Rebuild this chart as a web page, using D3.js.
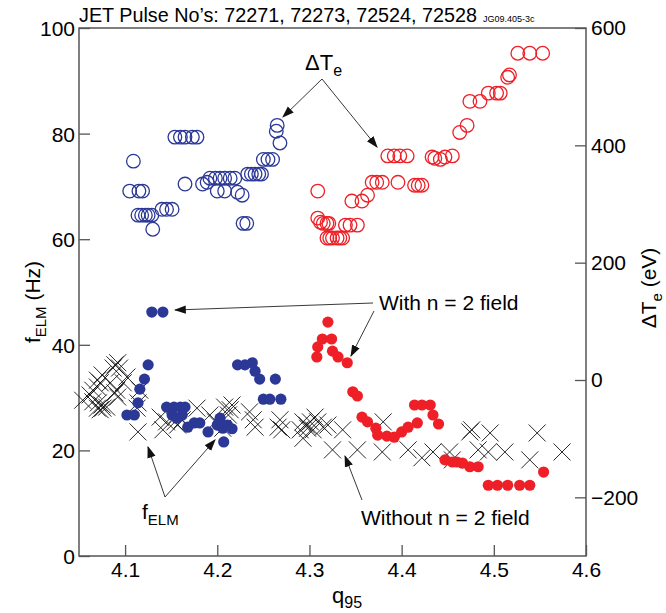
<!DOCTYPE html>
<html>
<head>
<meta charset="utf-8">
<script src="https://cdn.jsdelivr.net/npm/d3@7"></script>
<style>
  body { margin: 0; background: #fff; }
  text { font-family: "Liberation Sans", Arial, sans-serif; }
</style>
</head>
<body>
<div id="canvas"></div>
<script>
// ΔTe, pulse set 1 (blue open circles) : [q95, ΔTe eV]
const dteBlue = [
  [4.109, 373], [4.105, 322], [4.115, 322], [4.119, 322],
  [4.114, 281], [4.118, 281], [4.122, 281], [4.125, 281], [4.129, 281],
  [4.130, 257], [4.140, 291], [4.145, 291], [4.151, 291],
  [4.154, 414], [4.160, 414], [4.165, 414], [4.173, 414], [4.178, 414],
  [4.165, 334], [4.184, 334], [4.189, 337],
  [4.192, 344], [4.198, 344], [4.203, 344], [4.208, 344], [4.214, 344], [4.219, 344],
  [4.200, 322], [4.208, 322], [4.222, 320], [4.227, 315],
  [4.228, 267], [4.232, 267],
  [4.233, 351], [4.237, 351], [4.241, 351], [4.245, 351], [4.248, 351],
  [4.250, 376], [4.255, 376], [4.260, 376],
  [4.265, 434], [4.264, 424], [4.268, 404]
];

// ΔTe, pulse set 2 (red open circles)
const dteRed = [
  [4.309, 322], [4.309, 276], [4.312, 269], [4.315, 267], [4.319, 267], [4.321, 267],
  [4.319, 242], [4.322, 242], [4.325, 242], [4.330, 242], [4.333, 242], [4.336, 242],
  [4.339, 264], [4.344, 264], [4.352, 264],
  [4.346, 305], [4.357, 305], [4.363, 315],
  [4.368, 337], [4.373, 337], [4.379, 337], [4.396, 337],
  [4.414, 332], [4.418, 332], [4.422, 332],
  [4.385, 382], [4.392, 382], [4.398, 382], [4.406, 382],
  [4.433, 380], [4.436, 378], [4.442, 376], [4.447, 380], [4.455, 382],
  [4.463, 422], [4.471, 434],
  [4.474, 475], [4.485, 475],
  [4.494, 489], [4.503, 489], [4.507, 489],
  [4.515, 516], [4.517, 520],
  [4.526, 557], [4.539, 557], [4.553, 557]
];

// fELM with n = 2 field, pulse set 1 (blue dots) : [q95, Hz]
const felmBlue = [
  [4.129, 46.2], [4.141, 46.2],
  [4.125, 36.2], [4.121, 33.5], [4.116, 31.6], [4.114, 29.0], [4.102, 26.7], [4.110, 26.7],
  [4.145, 28.2], [4.153, 28.2], [4.160, 28.2], [4.165, 28.2],
  [4.151, 26.7], [4.156, 26.1], [4.162, 26.7],
  [4.168, 24.4], [4.175, 25.2], [4.181, 25.2], [4.190, 23.5],
  [4.200, 24.8], [4.203, 26.1], [4.206, 24.2], [4.211, 24.8], [4.216, 24.1], [4.207, 21.6],
  [4.222, 36.2], [4.230, 36.2], [4.238, 36.6], [4.241, 35.0], [4.246, 33.5],
  [4.263, 33.5], [4.250, 29.7], [4.257, 29.7], [4.269, 29.7]
];

// fELM with n = 2 field, pulse set 2 (red dots)
const felmRed = [
  [4.320, 44.3], [4.314, 41.1], [4.324, 41.1], [4.309, 39.6], [4.308, 37.7],
  [4.325, 38.8], [4.331, 37.7], [4.341, 36.6],
  [4.347, 31.1], [4.352, 30.3], [4.357, 26.3], [4.363, 25.4],
  [4.372, 24.2], [4.374, 22.9], [4.384, 22.7], [4.392, 22.5], [4.400, 23.5], [4.407, 24.4], [4.417, 25.2],
  [4.414, 28.6], [4.422, 28.6], [4.431, 28.6], [4.434, 26.7], [4.440, 25.0],
  [4.447, 18.2], [4.455, 17.8], [4.460, 17.8], [4.466, 17.6], [4.474, 16.9], [4.483, 16.9],
  [4.494, 13.4], [4.504, 13.4], [4.515, 13.4], [4.528, 13.4], [4.539, 13.4],
  [4.554, 15.9]
];

// fELM without n = 2 field (crosses)
const felmNoField = [
  [4.054, 29.5], [4.062, 30.5], [4.065, 31.4], [4.070, 32.0], [4.065, 29.2], [4.071, 29.0],
  [4.075, 28.6], [4.073, 27.7], [4.076, 28.0], [4.080, 28.2], [4.070, 28.0],
  [4.070, 33.3], [4.075, 34.3], [4.073, 32.8],
  [4.089, 36.2], [4.092, 36.6], [4.094, 35.6], [4.087, 35.6],
  [4.091, 31.4], [4.092, 30.1], [4.098, 32.8], [4.102, 33.9], [4.084, 32.8], [4.089, 30.9],
  [4.113, 28.0], [4.114, 29.0], [4.116, 31.4], [4.114, 23.5],
  [4.138, 26.3], [4.141, 23.9], [4.145, 25.4],
  [4.156, 26.7], [4.162, 25.8], [4.154, 25.4], [4.157, 24.8],
  [4.178, 28.0], [4.192, 26.7], [4.198, 25.4], [4.206, 24.2],
  [4.208, 28.2], [4.214, 27.7], [4.212, 26.7], [4.216, 28.6],
  [4.235, 27.3], [4.239, 25.8], [4.241, 24.4],
  [4.268, 25.8], [4.266, 24.4], [4.270, 23.9],
  [4.290, 23.9], [4.293, 25.4], [4.297, 24.8], [4.301, 25.4], [4.306, 26.3], [4.309, 25.4],
  [4.315, 24.4], [4.320, 24.8], [4.293, 22.3], [4.298, 24.2], [4.304, 23.9],
  [4.336, 23.9], [4.325, 20.1], [4.352, 20.1],
  [4.380, 25.4], [4.379, 19.7], [4.407, 20.1], [4.422, 18.6], [4.434, 19.7],
  [4.452, 19.7], [4.455, 18.2],
  [4.474, 23.5], [4.476, 23.9], [4.496, 23.3],
  [4.483, 20.1], [4.494, 19.7], [4.512, 19.7],
  [4.547, 23.3], [4.539, 18.2], [4.574, 19.7]
];

const xTicks = [4.1, 4.2, 4.3, 4.4, 4.5, 4.6];
const yLeftTicks = [0, 20, 40, 60, 80, 100];
const yRightTicks = [-200, 0, 200, 400, 600];

const width = 666, height = 613;
const plot = { left: 79, right: 586, top: 28, bottom: 556 };

const blue = "#2b3896";
const red = "#ee1f26";
const axisColor = "#555";

const x = d3.scaleLinear().domain([4.05, 4.6]).range([plot.left, plot.right]);
const yL = d3.scaleLinear().domain([0, 100]).range([plot.bottom, plot.top]);
const yR = d3.scaleLinear().domain([-300, 600]).range([plot.bottom, plot.top]);

const svg = d3.select("#canvas").append("svg")
  .attr("width", width)
  .attr("height", height);

// arrow head
svg.append("defs").append("marker")
  .attr("id", "arrow")
  .attr("viewBox", "0 0 10 10")
  .attr("refX", 9).attr("refY", 5)
  .attr("markerWidth", 12).attr("markerHeight", 12)
  .attr("markerUnits", "userSpaceOnUse")
  .attr("orient", "auto")
  .append("path")
  .attr("d", "M0,1.5 L10,5 L0,8.5 Z")
  .attr("fill", "#111");

// axes (ticks inward)
function styleAxis(g) {
  g.select(".domain").remove();
  g.selectAll(".tick line").attr("stroke", axisColor).attr("stroke-width", 1.3);
  g.selectAll(".tick text").attr("fill", "#000").style("font-size", "21px")
    .style("font-family", "'Liberation Sans', Arial, sans-serif");
}

svg.append("g")
  .attr("transform", `translate(0,${plot.bottom})`)
  .call(d3.axisBottom(x).tickValues(xTicks).tickFormat(d3.format(".1f"))
    .tickSizeInner(-11).tickSizeOuter(0).tickPadding(6))
  .call(styleAxis);

svg.append("g")
  .attr("transform", `translate(${plot.left},0)`)
  .call(d3.axisLeft(yL).tickValues(yLeftTicks).tickSizeInner(-11).tickSizeOuter(0).tickPadding(4))
  .call(styleAxis)
  .selectAll(".tick text").attr("dy", "0.36em");

svg.append("g")
  .attr("transform", `translate(${plot.right},0)`)
  .call(d3.axisRight(yR).tickValues(yRightTicks).tickFormat(d => d < 0 ? "\u2212" + Math.abs(d) : d)
    .tickSizeInner(-11).tickSizeOuter(0).tickPadding(5))
  .call(styleAxis);

svg.append("rect")
  .attr("x", plot.left).attr("y", plot.top)
  .attr("width", plot.right - plot.left).attr("height", plot.bottom - plot.top)
  .attr("fill", "none").attr("stroke", axisColor).attr("stroke-width", 1.5);

// crosses
const cs = 8.5;
svg.append("g").selectAll("path")
  .data(felmNoField)
  .join("path")
  .attr("d", d => {
    const cx = x(d[0]), cy = yL(d[1]);
    return `M${cx - cs},${cy - cs}L${cx + cs},${cy + cs}M${cx - cs},${cy + cs}L${cx + cs},${cy - cs}`;
  })
  .attr("stroke", "#111")
  .attr("stroke-width", 0.9)
  .attr("fill", "none");

// open circles, ΔTe
function openCircles(data, color) {
  svg.append("g").selectAll("circle")
    .data(data)
    .join("circle")
    .attr("cx", d => x(d[0]))
    .attr("cy", d => yR(d[1]))
    .attr("r", 6.8)
    .attr("fill", "none")
    .attr("stroke", color)
    .attr("stroke-width", 1.3);
}
openCircles(dteBlue, blue);
openCircles(dteRed, red);

// filled dots, fELM
function dots(data, color) {
  svg.append("g").selectAll("circle")
    .data(data)
    .join("circle")
    .attr("cx", d => x(d[0]))
    .attr("cy", d => yL(d[1]))
    .attr("r", 5.6)
    .attr("fill", color);
}
dots(felmBlue, blue);
dots(felmRed, red);

// annotations
function arrow(x1, y1, x2, y2) {
  svg.append("line")
    .attr("x1", x1).attr("y1", y1).attr("x2", x2).attr("y2", y2)
    .attr("stroke", "#222").attr("stroke-width", 0.9)
    .attr("marker-end", "url(#arrow)");
}

// ΔTe label and arrows
const dte = svg.append("text").attr("x", 305).attr("y", 70).style("font-size", "22px");
dte.append("tspan").text("\u0394T");
dte.append("tspan").attr("dy", 6).style("font-size", "16px").text("e");
arrow(322, 79, 283, 117);
arrow(322, 79, 377, 147);

// With n = 2 field
svg.append("text").attr("x", 379).attr("y", 310).style("font-size", "21px").text("With n = 2 field");
arrow(373, 303, 175, 310);
arrow(374, 311, 351, 356);

// Without n = 2 field
svg.append("text").attr("x", 361).attr("y", 525).style("font-size", "21px").text("Without n = 2 field");
arrow(362, 500, 345, 456);

// fELM arrows
const fl = svg.append("text").attr("x", 142).attr("y", 519).style("font-size", "21px");
fl.append("tspan").text("f");
fl.append("tspan").attr("dy", 6).style("font-size", "15px").text("ELM");
arrow(165, 497, 148, 447);
arrow(165, 497, 215, 440);

// title
svg.append("text").attr("x", 79).attr("y", 22).style("font-size", "20px")
  .attr("textLength", 398).attr("lengthAdjust", "spacingAndGlyphs")
  .text("JET Pulse No\u2019s: 72271, 72273, 72524, 72528");
svg.append("text").attr("x", 483).attr("y", 22).style("font-size", "9px").text("JG09.405-3c");

// axis titles
const xl = svg.append("text").attr("x", 332).attr("y", 603).style("font-size", "22px");
xl.append("tspan").text("q");
xl.append("tspan").attr("dy", 5).style("font-size", "16px").text("95");

const yl = svg.append("text")
  .attr("transform", "translate(40,302) rotate(-90)")
  .attr("text-anchor", "middle")
  .style("font-size", "21px");
yl.append("tspan").text("f");
yl.append("tspan").attr("dy", 6).style("font-size", "15px").text("ELM");
yl.append("tspan").attr("dy", -6).text(" (Hz)");

const yr = svg.append("text")
  .attr("transform", "translate(656,288) rotate(-90)")
  .attr("text-anchor", "middle")
  .style("font-size", "21px");
yr.append("tspan").text("\u0394T");
yr.append("tspan").attr("dy", 6).style("font-size", "15px").text("e");
yr.append("tspan").attr("dy", -6).text(" (eV)");
</script>
</body>
</html>
